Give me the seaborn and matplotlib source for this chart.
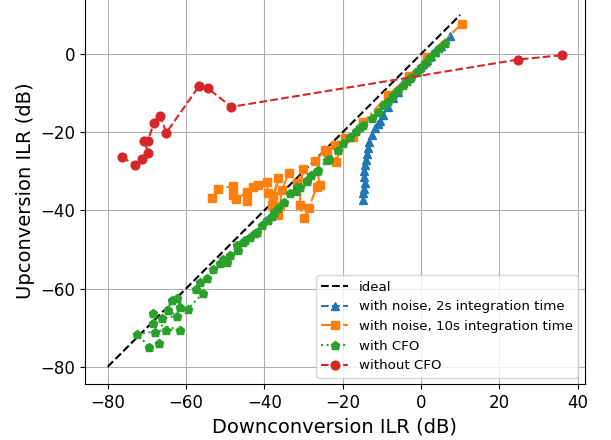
import matplotlib
matplotlib.use("Agg")
import matplotlib.pyplot as plt
import seaborn as sns
import pandas as pd

# ---- data ----
ideal_x = [-80, 10]
ideal_y = [-80, 10]

noise2_x = [7.5, 5.0, 3.5, 2.5, 1.5, 0.5, -0.5, -1.5, -3.0, -4.5, -5.8, -7.1, -8.5, -9.6,
            -10.5, -11.1, -11.7, -12.6, -13.2, -13.6, -13.9, -14.0, -14.2, -14.5, -14.6,
            -14.4, -14.6, -14.7, -14.8]
noise2_y = [4.5, 2.0, 0.5, -0.5, -1.5, -2.5, -3.5, -4.5, -6.0, -7.5, -9.6, -11.3, -13.5, -15.6,
            -17.0, -17.8, -19.0, -20.7, -22.5, -24.0, -25.5, -27.0, -28.5, -30.0, -31.5,
            -33.0, -34.5, -35.5, -37.3]

noise10_x = [10.5, 1.5, -3.0, -8.3, -14.7, -17.3, -19.4, -21.7, -21.9, -24.1, -24.5, -27.0, -25.8,
             -26.6, -28.7, -29.8, -31.0, -30.2, -31.7, -33.8, -35.5, -36.0, -36.4, -38.1,
             -36.4, -37.7, -39.0, -39.4, -41.5, -42.8, -44.3, -44.5, -47.3, -47.9, -47.9,
             -51.7, -53.4]
noise10_y = [7.8, -0.7, -5.5, -10.5, -17.3, -21.1, -21.6, -27.5, -23.3, -25.0, -24.6, -27.3, -33.5,
             -33.9, -39.5, -42.0, -38.6, -29.5, -33.1, -30.5, -34.8, -38.9, -41.2, -38.6,
             -31.8, -36.3, -35.6, -32.7, -33.5, -34.1, -37.6, -35.4, -37.2, -36.1, -33.7,
             -34.5, -36.7]

cfo_x = [6.1, 4.5, 3.5, 2.3, 1.2, 0.0, -1.1, -2.5, -3.5, -4.5, -5.8, -7.1, -8.5, -9.6, -11.0,
         -12.5, -14.7, -15.6, -16.5, -18.1, -19.8, -21.1, -23.6, -24.1, -26.2, -26.6, -28.0,
         -29.0, -29.2, -30.9, -31.7, -32.0, -33.4, -35.1, -36.5, -37.5, -38.0, -39.0, -39.4,
         -40.5, -41.9, -42.5, -43.6, -44.9, -45.5, -47.0, -46.6, -48.7, -49.6, -50.5, -51.3,
         -53.0, -54.7, -56.4, -57.4, -55.7, -59.6, -61.5, -62.3, -63.6, -64.7, -62.2, -66.2,
         -68.3, -68.3, -61.5, -65.1, -67.9, -72.5, -69.4, -66.8]
cfo_y = [2.9, 1.5, 0.5, -0.7, -2.0, -3.2, -4.5, -5.8, -7.0, -7.9, -9.2, -10.5, -12.0, -13.0, -14.8,
         -16.3, -18.2, -18.6, -19.8, -21.1, -22.8, -24.6, -26.9, -27.1, -29.7, -29.9, -31.0,
         -32.2, -32.4, -33.9, -33.9, -35.0, -35.6, -37.8, -39.5, -40.5, -41.5, -42.5, -42.5,
         -43.8, -45.4, -45.8, -46.7, -47.6, -48.0, -48.8, -50.1, -51.4, -53.1, -52.5, -53.5,
         -55.1, -57.4, -58.2, -60.2, -61.2, -65.3, -64.6, -62.5, -62.9, -65.5, -67.0, -67.6,
         -66.3, -68.9, -70.6, -70.6, -71.0, -71.6, -74.9, -74.0]

nocfo_x = [-76.4, -73.0, -71.2, -69.6, -70.7, -69.8, -68.2, -66.6, -65.0, -56.6, -54.5, -48.4, 24.8, 36.0]
nocfo_y = [-26.3, -28.4, -26.9, -25.2, -22.3, -22.3, -17.7, -15.8, -20.1, -8.1, -8.7, -13.5, -1.4, -0.3]

labels = ["ideal", "with noise, 2s integration time", "with noise, 10s integration time",
          "with CFO", "without CFO"]

# ---- plot ----
fig = plt.figure(figsize=(6.11, 4.40), dpi=100)
ax = fig.add_axes([0.139, 0.1264, 0.818, 0.8796])

series = [
    (ideal_x, ideal_y, labels[0], "black", "--", None),
    (noise2_x, noise2_y, labels[1], "#1f77b4", "--", "^"),
    (noise10_x, noise10_y, labels[2], "#ff7f0e", "-.", "s"),
    (cfo_x, cfo_y, labels[3], "#2ca02c", ":", "p"),
    (nocfo_x, nocfo_y, labels[4], "#d62728", "--", "o"),
]
for xs, ys, lab, col, ls, mk in series:
    df = pd.DataFrame({"x": xs, "y": ys})
    kw = dict(data=df, x="x", y="y", sort=False, estimator=None, ax=ax, label=lab,
              color=col, linestyle=ls, linewidth=1.5)
    if mk is not None:
        kw.update(marker=mk, markersize=6.3, markeredgecolor=col, markeredgewidth=1.0)
    sns.lineplot(**kw)

ax.margins(0.05)
ax.grid(True, color="#b0b0b0", linewidth=0.8)
ax.set_xticks([-80, -60, -40, -20, 0, 20, 40])
ax.set_yticks([-80, -60, -40, -20, 0])
ax.tick_params(labelsize=12)
ax.set_xlabel("Downconversion ILR (dB)", fontsize=14)
ax.set_ylabel("Upconversion ILR (dB)", fontsize=14)
ax.legend(loc="lower right", fontsize=9.6)

fig.savefig("out.png", dpi=100)
